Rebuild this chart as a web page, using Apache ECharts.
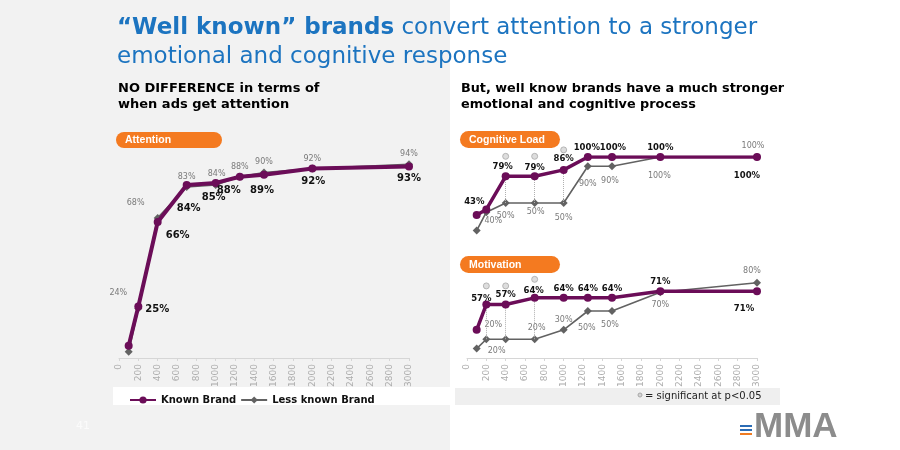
<!DOCTYPE html>
<html><head><meta charset="utf-8">
<script src="https://cdn.jsdelivr.net/npm/echarts@6/dist/echarts.min.js"></script>
<style>html,body{margin:0;padding:0;background:#fff}#c{width:900px;height:450px}</style>
</head><body><div id="c"></div>
<script>
// ---- data ----
const xValues = [100, 200, 400, 700, 1000, 1250, 1500, 2000, 3000];
const attentionKnown = [6, 25, 66, 84, 85, 88, 89, 92, 93];
const attentionLess = [3, 24, 68, 83, 84, 88, 90, 92, 94];
const cognitiveKnown = [37, 43, 79, 79, 86, 100, 100, 100, 100];
const cognitiveLess = [20, 40, 50, 50, 50, 90, 90, 100, 100];
const motivationKnown = [30, 57, 57, 64, 64, 64, 64, 71, 71];
const motivationLess = [10, 20, 20, 20, 30, 50, 50, 70, 80];
const sigCognitive = [400, 700, 1000];
const sigMotivation = [200, 400, 700];
const seriesNames = ['Known Brand', 'Less known Brand'];

// ---- label placement (style) ----
const offAttK = [null, [19, 3], [20, 13], [2, 23], [-2, 15], [-11, 14], [-2, 16], [1, 13], [0, 12]];
const offAttL = [null, [-20, -16], [-22, -15], [0, -10], [1, -11], [0, -10], [0, -11], [0, -10], [0, -10]];
const offCogK = [null, [-12, -8], [-3, -10], [0, -9], [0, -11], [-1, -9], [1, -9], [0, -9], [-10, 19]];
const offCogL = [null, [7, 9], [0, 13], [1, 9], [0, 15], [0, 18], [-2, 15], [-1, 19], [-4, -11]];
const offMotK = [null, [-5, -6], [0, -10], [-1, -7], [0, -9], [0, -9], [0, -9], [0, -9], [-13, 18]];
const offMotL = [null, [7, -14], [-9, 12], [2, -11], [0, -10], [-1, 17], [-2, 14], [0, 13], [-5, -12]];

const PURPLE = '#6b0d58';
const GREY = '#626262';
const FONT = 'DejaVu Sans';

function pts(vals, offs) {
  return vals.map((v, i) => ({
    value: [xValues[i], v],
    label: offs[i] ? { show: true, offset: offs[i] } : { show: false }
  }));
}
function known(idx, vals, offs, big) {
  return {
    name: seriesNames[0], type: 'line', xAxisIndex: idx, yAxisIndex: idx,
    data: pts(vals, offs), symbol: 'circle', symbolSize: 8,
    lineStyle: { color: PURPLE, width: big ? 4 : 3.5 }, itemStyle: { color: PURPLE },
    label: { position: 'inside', formatter: p => p.value[1] + '%', color: '#111',
      fontFamily: FONT, fontWeight: 'bold', fontSize: big ? 10 : 8.5 },
    z: 5, animation: false
  };
}
function less(idx, vals, offs, sig, kvals) {
  const s = {
    name: seriesNames[1], type: 'line', xAxisIndex: idx, yAxisIndex: idx,
    data: pts(vals, offs), symbol: 'diamond', symbolSize: 8,
    lineStyle: { color: GREY, width: 1.6 }, itemStyle: { color: GREY },
    label: { position: 'inside', formatter: p => p.value[1] + '%', color: '#7a7a7a',
      fontFamily: FONT, fontSize: 8 },
    z: 4, animation: false
  };
  if (sig) {
    s.markLine = {
      silent: true, symbol: 'none', label: { show: false },
      lineStyle: { color: '#b0b0b0', type: 'dotted', width: 1 },
      data: sig.map(x => {
        const i = xValues.indexOf(x);
        return [{ coord: [x, vals[i]] }, { coord: [x, kvals[i]] }];
      })
    };
  }
  return s;
}
function sigMarks(idx, sig, kvals, dy) {
  return {
    type: 'scatter', xAxisIndex: idx, yAxisIndex: idx, symbol: 'circle', symbolSize: 6,
    symbolOffset: [0, dy],
    itemStyle: { color: '#d4d4d4', borderColor: '#a8a8a8', borderWidth: 1 },
    data: sig.map(x => [x, kvals[xValues.indexOf(x)]]), z: 6, animation: false, silent: true
  };
}
function xAx(idx, show) {
  return {
    type: 'value', gridIndex: idx, min: 0, max: 3000, interval: 200, show: show,
    axisLine: { lineStyle: { color: '#d6d6d6' } },
    axisTick: { show: true, length: 3, lineStyle: { color: '#d6d6d6' } },
    splitLine: { show: false },
    axisLabel: { rotate: 90, color: '#adadad', fontSize: 9, fontFamily: FONT, margin: 6,
      formatter: v => String(v) }
  };
}
function yAx(idx) {
  return { type: 'value', gridIndex: idx, min: 0, max: 100, show: false, splitLine: { show: false } };
}
function pill(x, y, w, h, text) {
  return [
    { type: 'rect', shape: { x: x, y: y, width: w, height: h, r: h / 2 }, style: { fill: '#f47a20' }, z: 10 },
    { type: 'text', x: x + 9, y: y + h / 2 + 0.5, style: { text: text, fill: '#fff', font: 'bold 10.5px "Liberation Sans"', verticalAlign: 'middle' }, z: 11 }
  ];
}

const chart = echarts.init(document.getElementById('c'), null, { renderer: 'canvas' });
chart.setOption({
  backgroundColor: '#ffffff',
  animation: false,
  grid: [
    { left: 119, top: 152, width: 290, height: 206 },
    { left: 467, top: 157, width: 290, height: 92 },
    { left: 467, top: 264, width: 290, height: 94 }
  ],
  xAxis: [xAx(0, true), xAx(1, false), xAx(2, true)],
  yAxis: [yAx(0), yAx(1), yAx(2)],
  legend: {
    data: seriesNames, left: 124, top: 390, itemWidth: 26, itemHeight: 9, itemGap: 4,
    textStyle: { fontFamily: FONT, fontWeight: 'bold', fontSize: 10, color: '#111' },
    selectedMode: false
  },
  series: [
    less(0, attentionLess, offAttL),
    known(0, attentionKnown, offAttK, true),
    less(1, cognitiveLess, offCogL, sigCognitive, cognitiveKnown),
    known(1, cognitiveKnown, offCogK),
    sigMarks(1, sigCognitive, cognitiveKnown, -20),
    less(2, motivationLess, offMotL, sigMotivation, motivationKnown),
    known(2, motivationKnown, offMotK),
    sigMarks(2, sigMotivation, motivationKnown, -18.5)
  ],
  graphic: [
    { type: 'rect', shape: { x: 0, y: 0, width: 450, height: 450 }, style: { fill: '#f2f2f2' }, z: -10, silent: true },
    { type: 'text', x: 117, y: 28, style: {
        text: '{b|“Well known” brands} convert attention to a stronger',
        fill: '#1c74c0', font: '23px "DejaVu Sans"', verticalAlign: 'middle',
        rich: { b: { fontWeight: 'bold', fontSize: 23, fontFamily: FONT, fill: '#1c74c0' } } }, z: 11 },
    { type: 'text', x: 117, y: 57, style: { text: 'emotional and cognitive response', fill: '#1c74c0', font: '23px "DejaVu Sans"', verticalAlign: 'middle' }, z: 11 },
    { type: 'text', x: 118, y: 89, style: { text: 'NO DIFFERENCE in terms of', fill: '#000', font: 'bold 13px "DejaVu Sans"', verticalAlign: 'middle' }, z: 11 },
    { type: 'text', x: 118, y: 105, style: { text: 'when ads get attention', fill: '#000', font: 'bold 13px "DejaVu Sans"', verticalAlign: 'middle' }, z: 11 },
    { type: 'text', x: 461, y: 89, style: { text: 'But, well know brands have a much stronger', fill: '#000', font: 'bold 12.8px "DejaVu Sans"', verticalAlign: 'middle' }, z: 11 },
    { type: 'text', x: 461, y: 105, style: { text: 'emotional and cognitive process', fill: '#000', font: 'bold 12.8px "DejaVu Sans"', verticalAlign: 'middle' }, z: 11 },
    ...pill(116, 132, 106, 16, 'Attention'),
    ...pill(460, 131, 100, 17, 'Cognitive Load'),
    ...pill(460, 256, 100, 17, 'Motivation'),
    { type: 'rect', shape: { x: 113, y: 387, width: 337, height: 18 }, style: { fill: '#ffffff' }, z: -5, silent: true },
    { type: 'rect', shape: { x: 455, y: 388, width: 325, height: 17 }, style: { fill: '#efefef' }, z: -5, silent: true },
    { type: 'circle', shape: { cx: 640, cy: 395, r: 2 }, style: { fill: '#d4d4d4', stroke: '#a8a8a8', lineWidth: 1 }, z: 11 },
    { type: 'text', x: 645, y: 396, style: { text: '= significant at p<0.05', fill: '#222', font: '10px "DejaVu Sans"', verticalAlign: 'middle' }, z: 11 },
    { type: 'text', x: 754, y: 427, style: { text: 'MMA', fill: '#8c8c8c', font: 'bold 35px "Liberation Sans"', verticalAlign: 'middle' }, z: 11 },
    { type: 'rect', shape: { x: 740, y: 425, width: 12, height: 2 }, style: { fill: '#2b6cb5' }, z: 12 },
    { type: 'rect', shape: { x: 740, y: 429, width: 12, height: 2 }, style: { fill: '#2b6cb5' }, z: 12 },
    { type: 'rect', shape: { x: 740, y: 433, width: 12, height: 2 }, style: { fill: '#ef7b22' }, z: 12 },
    { type: 'text', x: 76, y: 426, style: { text: '41', fill: '#fbfbfb', font: '11px "DejaVu Sans"', verticalAlign: 'middle' }, z: 11 }
  ]
});
</script></body></html>
